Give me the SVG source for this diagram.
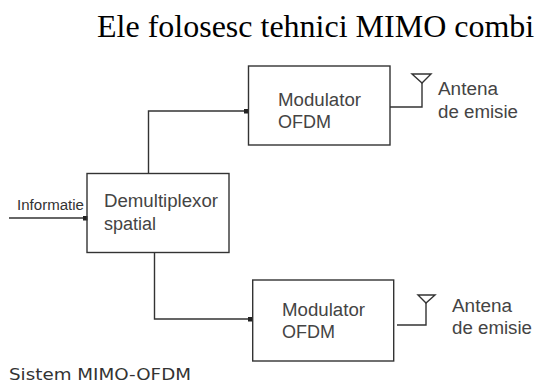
<svg xmlns="http://www.w3.org/2000/svg" width="535" height="383" viewBox="0 0 535 383">
<defs>
<style>
.b{fill:none;stroke:#333;stroke-width:1.4}
.l{fill:none;stroke:#333;stroke-width:1.4}
.t{font-family:"Liberation Sans",Arial,sans-serif;font-size:18px;fill:#444}
</style>
<marker id="dot" markerUnits="userSpaceOnUse" markerWidth="5" markerHeight="5" refX="4.5" refY="2.5" orient="auto"><rect width="5" height="5" fill="#222"/></marker>
</defs>
<rect width="535" height="383" fill="#fff"/>
<text x="97" y="37" font-family="'Liberation Serif','Times New Roman',serif" font-size="32" fill="#000">Ele folosesc tehnici MIMO combi</text>
<g id="connectors">
<path class="l" d="M9 218H87" marker-end="url(#dot)"/>
<path class="l" d="M148.500 173V111H248" marker-end="url(#dot)"/>
<path class="l" d="M154.500 253V319H252" marker-end="url(#dot)"/>
<path class="l" d="M390 107H422V83"/>
<path class="l" d="M397 325H426V303"/>
</g>
<g id="input-label"><text x="17" y="210" font-family="'Liberation Sans',Arial,sans-serif" font-size="14" fill="#333" textLength="67" lengthAdjust="spacingAndGlyphs">Informatie</text></g>
<g id="demux"><rect class="b" x="87" y="173.500" width="142" height="79"/>
<text class="t" x="104" y="207" textLength="114" lengthAdjust="spacingAndGlyphs">Demultiplexor</text><text class="t" x="104" y="230">spatial</text></g>
<g id="mod1"><rect class="b" x="248.500" y="66" width="141.500" height="79"/>
<text class="t" x="278" y="106" textLength="83" lengthAdjust="spacingAndGlyphs">Modulator</text><text class="t" x="278" y="128">OFDM</text></g>
<g id="mod2"><rect class="b" x="252.700" y="280" width="141" height="81"/>
<text class="t" x="282" y="316" textLength="83" lengthAdjust="spacingAndGlyphs">Modulator</text><text class="t" x="282" y="338">OFDM</text></g>
<g id="ant1"><path class="l" d="M412 74H431L422 83Z"/>
<text class="t" x="438" y="95" textLength="60" lengthAdjust="spacingAndGlyphs">Antena</text><text class="t" x="438" y="118" textLength="80" lengthAdjust="spacingAndGlyphs">de emisie</text></g>
<g id="ant2"><path class="l" d="M418 295H435L426 303Z"/>
<text class="t" x="452" y="312" textLength="60" lengthAdjust="spacingAndGlyphs">Antena</text><text class="t" x="452" y="334" textLength="80" lengthAdjust="spacingAndGlyphs">de emisie</text></g>
<g id="caption"><text x="9" y="380" font-family="'DejaVu Sans',sans-serif" font-size="15" fill="#333" textLength="182" lengthAdjust="spacingAndGlyphs">Sistem MIMO-OFDM</text></g>
</svg>
